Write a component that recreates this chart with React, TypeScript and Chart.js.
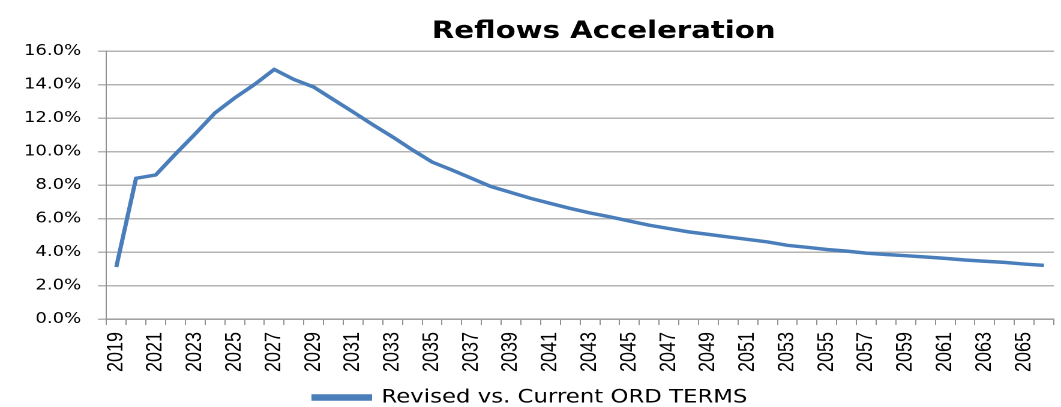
import React, { useEffect, useRef } from "react";
import { Chart, registerables } from "chart.js";

Chart.register(...registerables);

const years: string[] = [];
for (let y = 2019; y <= 2066; y++) years.push(String(y));

const seriesName = "Revised vs. Current ORD TERMS";
const values: number[] = [
  3.1, 8.4, 8.6, 9.85, 11.05, 12.3, 13.2, 14.0, 14.9, 14.3,
  13.85, 13.1, 12.36, 11.6, 10.87, 10.1, 9.37, 8.9, 8.4, 7.9,
  7.55, 7.2, 6.9, 6.6, 6.33, 6.1, 5.85, 5.6, 5.4, 5.2,
  5.05, 4.9, 4.75, 4.6, 4.4, 4.28, 4.15, 4.05, 3.93, 3.85,
  3.78, 3.7, 3.62, 3.52, 3.45, 3.38, 3.28, 3.2,
];
const yTicks = { min: 0, max: 16, step: 2 };
const titleText = "Reflows Acceleration";

const STRETCH = 1.2;
const W = Math.round(1061 / STRETCH);
const H = 407;

export default function App() {
  const ref = useRef<HTMLCanvasElement>(null);
  useEffect(() => {
    document.body.style.margin = "0";
    const titlePlugin = {
      id: "fixedTitle",
      afterDraw(chart: any) {
        const ctx = chart.ctx;
        ctx.save();
        ctx.font = "bold 24.3px 'DejaVu Sans'";
        ctx.fillStyle = "#000";
        ctx.textAlign = "center";
        ctx.textBaseline = "alphabetic";
        ctx.fillText(titleText, 503, 38);
        ctx.restore();
      },
    };
    const chart = new Chart(ref.current!, {
      type: "line",
      data: {
        labels: years,
        datasets: [
          {
            label: seriesName,
            data: values,
            borderColor: "#4a7ebb",
            backgroundColor: "#4a7ebb",
            borderWidth: 3.5,
            pointRadius: 0,
            tension: 0,
          },
        ],
      },
      options: {
        animation: false,
        responsive: false,
        devicePixelRatio: 2,
        layout: { padding: { top: 51, left: 6, right: 6, bottom: -10 } },
        plugins: {
          title: { display: false },
          tooltip: { enabled: false },
          legend: {
            position: "bottom",
            labels: {
              boxWidth: 47,
              boxHeight: 3,
              color: "#000",
              font: { family: "'DejaVu Sans'", size: 19 },
              padding: 2,
            },
          },
        },
        scales: {
          x: {
            offset: true,
            afterFit: (scale: any) => {
              scale.height = 67;
              scale.paddingRight = 0;
              scale.paddingLeft = 0;
            },
            grid: {
              display: true,
              offset: true,
              drawOnChartArea: false,
              drawTicks: true,
              tickLength: 6,
              color: "#909090",
            },
            border: { color: "#909090", width: 1 },
            ticks: {
              autoSkip: false,
              maxRotation: 90,
              minRotation: 90,
              padding: 7,
              color: "#000",
              font: { family: "'Liberation Sans'", size: 18 },
              callback: (_v: any, i: number) => (i % 2 === 0 ? years[i] : ""),
            },
          },
          y: {
            min: yTicks.min,
            max: yTicks.max,
            grid: { color: "#b4b4b4", tickLength: 7, lineWidth: 1.5 },
            border: { color: "#909090", width: 1 },
            ticks: {
              stepSize: yTicks.step,
              padding: 14,
              color: "#000",
              font: { family: "'DejaVu Sans'", size: 15 },
              callback: (v: any) => Number(v).toFixed(1) + "%",
            },
          },
        },
      },
      plugins: [titlePlugin],
    });
    return () => chart.destroy();
  }, []);
  return (
    <canvas
      ref={ref}
      style={{
        display: "block",
        width: W + "px",
        height: H + "px",
        transform: `scaleX(${1061 / W})`,
        transformOrigin: "0 0",
      }}
    />
  );
}
